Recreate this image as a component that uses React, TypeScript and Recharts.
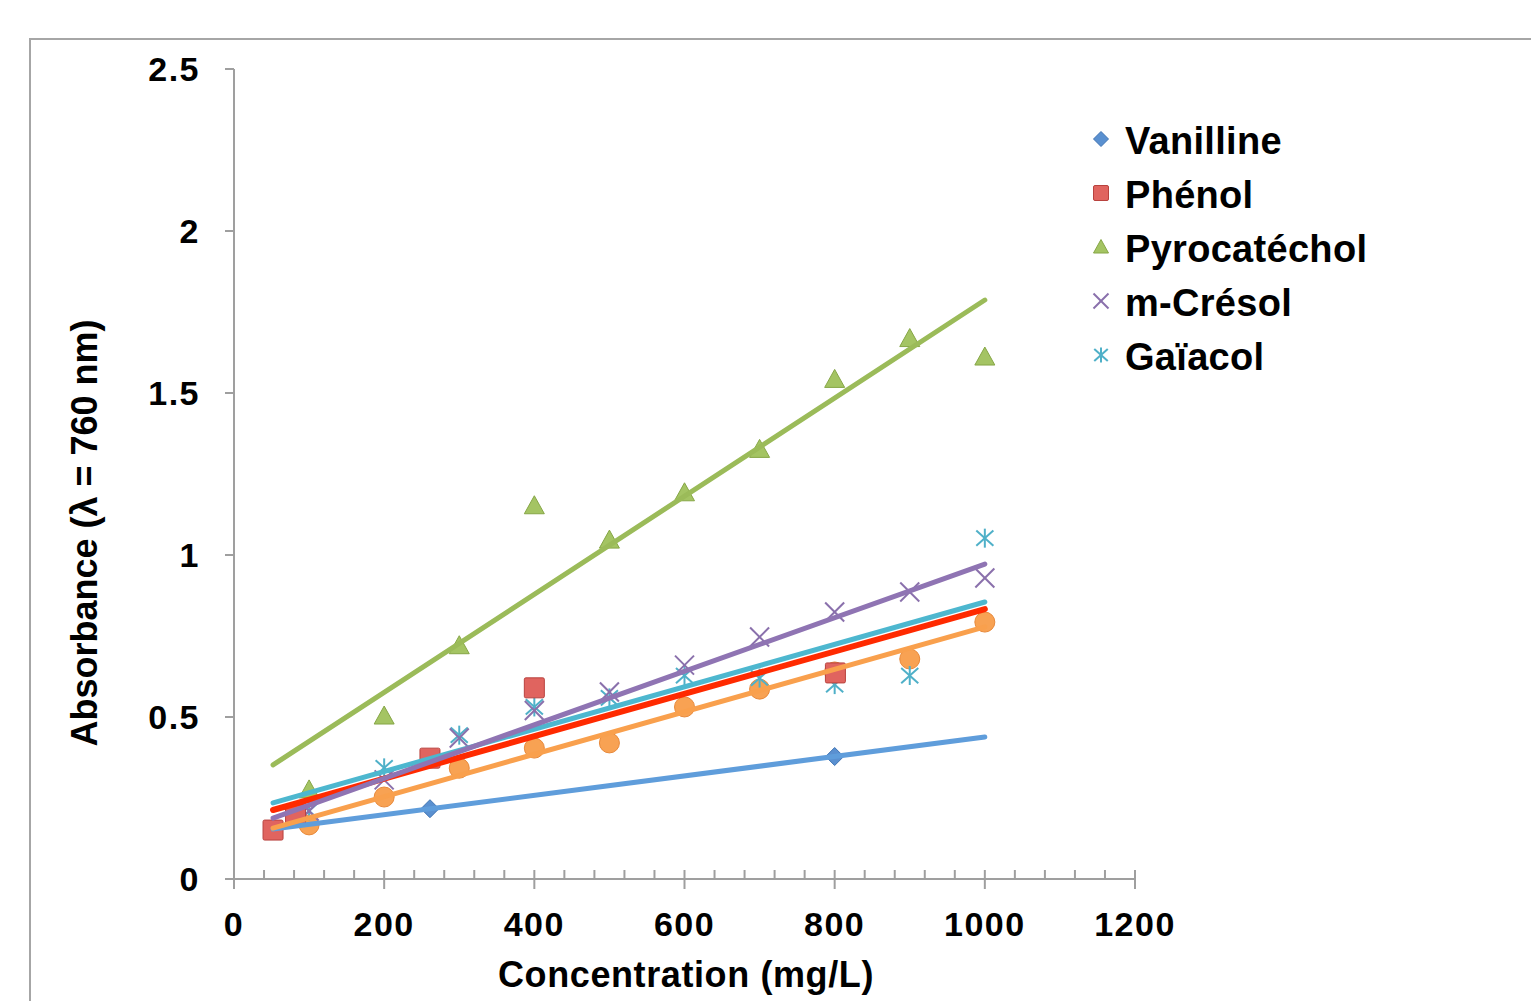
import { ComposedChart, Legend, Scatter, XAxis, YAxis } from "recharts";

const FONT = '"Liberation Sans", Arial, sans-serif';
const AXIS_GREY = "#9f9f9f";

// concentrations (mg/L)
const CONC = [100, 200, 300, 400, 500, 600, 700, 800, 900, 1000];
const VANILLINE_X = [52, 261, 800];
const PHENOL_X = [52, 82, 261, 400, 801];

// absorbance values
const VANILLINE_Y = [0.15, 0.217, 0.378];
const PHENOL_Y = [0.151, 0.198, 0.373, 0.59, 0.636];
const PYRO_Y = [0.275, 0.503, 0.72, 1.152, 1.046, 1.192, 1.326, 1.542, 1.668, 1.611];
const CRESOL_Y = [0.21, 0.306, 0.435, 0.52, 0.577, 0.66, 0.747, 0.824, 0.886, 0.929];
const GAIACOL_Y = [0.21, 0.343, 0.444, 0.531, 0.559, 0.628, 0.62, 0.6, 0.628, 1.052];
const ORANGE_Y = [0.167, 0.253, 0.342, 0.404, 0.42, 0.531, 0.586, 0.639, 0.679, 0.793];

// trend line end points [x0, y0, x1, y1]
const TREND_VANILLINE = [52, 0.154, 1000, 0.438];
const TREND_PHENOL = [52, 0.213, 1000, 0.833];
const TREND_PYRO = [52, 0.352, 1000, 1.787];
const TREND_CRESOL = [52, 0.188, 1000, 0.972];
const TREND_GAIACOL = [52, 0.235, 1000, 0.855];
const TREND_ORANGE = [52, 0.157, 1000, 0.778];

const X_TICKS = [
  0, 40, 80, 120, 160, 200, 240, 280, 320, 360, 400, 440, 480, 520, 560, 600,
  640, 680, 720, 760, 800, 840, 880, 920, 960, 1000, 1040, 1080, 1120, 1160, 1200
];
const X_MAJOR = [0, 200, 400, 600, 800, 1000, 1200];
const Y_TICKS = [0, 0.5, 1, 1.5, 2, 2.5];

const toPoints = (xs: number[], ys: number[]) => xs.map((x, i) => ({ x, y: ys[i] }));
const toTrend = (t: number[]) => [
  { x: t[0], y: t[1] },
  { x: t[2], y: t[3] }
];

type MarkerKind = "diamond" | "square" | "triangle" | "x" | "star" | "circle";

function Marker({ kind, cx, cy, s }: { kind: MarkerKind; cx: number; cy: number; s: number }) {
  const h = s / 2;
  switch (kind) {
    case "diamond":
      return (
        <polygon
          points={`${cx},${cy - h} ${cx + h},${cy} ${cx},${cy + h} ${cx - h},${cy}`}
          fill="#5a90d0"
          stroke="#3f73b3"
          strokeWidth={1}
        />
      );
    case "square":
      return (
        <rect x={cx - h} y={cy - h} width={s} height={s} rx={1.5} fill="#e0645f" stroke="#b8423e" strokeWidth={1} />
      );
    case "triangle":
      return (
        <polygon
          points={`${cx},${cy - h} ${cx + h},${cy + h * 0.8} ${cx - h},${cy + h * 0.8}`}
          fill="#a4c463"
          stroke="#86a646"
          strokeWidth={1}
        />
      );
    case "x":
      return (
        <g stroke="#8a70ac" strokeWidth={2}>
          <line x1={cx - h} y1={cy - h} x2={cx + h} y2={cy + h} />
          <line x1={cx - h} y1={cy + h} x2={cx + h} y2={cy - h} />
        </g>
      );
    case "star":
      return (
        <g stroke="#4fb0c8" strokeWidth={2}>
          <line x1={cx - h * 0.9} y1={cy - h * 0.8} x2={cx + h * 0.9} y2={cy + h * 0.8} />
          <line x1={cx - h * 0.9} y1={cy + h * 0.8} x2={cx + h * 0.9} y2={cy - h * 0.8} />
          <line x1={cx} y1={cy - h} x2={cx} y2={cy + h} />
        </g>
      );
    default:
      return <circle cx={cx} cy={cy} r={h} fill="#f8a253" stroke="#e8893a" strokeWidth={1} />;
  }
}

const shapeOf = (kind: MarkerKind, s: number) => (props: any) =>
  <Marker kind={kind} cx={props.cx} cy={props.cy} s={s} />;

const noShape = () => <g />;

const LEGEND_ITEMS: { name: string; kind: MarkerKind }[] = [
  { name: "Vanilline", kind: "diamond" },
  { name: "Phénol", kind: "square" },
  { name: "Pyrocatéchol", kind: "triangle" },
  { name: "m-Crésol", kind: "x" },
  { name: "Gaïacol", kind: "star" }
];

function LegendBox() {
  return (
    <div style={{ fontFamily: FONT, fontWeight: 700, fontSize: 38, color: "#000" }}>
      {LEGEND_ITEMS.map((item) => (
        <div key={item.name} style={{ display: "flex", alignItems: "center", height: 54, lineHeight: "54px" }}>
          <svg width={22} height={22} style={{ marginRight: 13 }}>
            <Marker kind={item.kind} cx={11} cy={9} s={15} />
          </svg>
          <span style={{ letterSpacing: 0.3 }}>{item.name}</span>
        </div>
      ))}
    </div>
  );
}

function XTick({ x, y, payload }: any) {
  const major = X_MAJOR.includes(payload.value);
  return (
    <g>
      <line x1={x} x2={x} y1={y - 9} y2={major ? y + 10 : y} stroke={AXIS_GREY} strokeWidth={2} />
      {major && (
        <text
          x={x}
          y={y + 57}
          textAnchor="middle"
          fontFamily={FONT}
          fontWeight={700}
          fontSize={34}
          letterSpacing={1.5}
          fill="#000"
        >
          {payload.value}
        </text>
      )}
    </g>
  );
}

export default function App() {
  const trends = [
    { data: toTrend(TREND_PYRO), color: "#9bbb59", w: 5 },
    { data: toTrend(TREND_VANILLINE), color: "#5f9ddb", w: 5 },
    { data: toTrend(TREND_ORANGE), color: "#f9a04d", w: 5 },
    { data: toTrend(TREND_PHENOL), color: "#ff2a00", w: 6 },
    { data: toTrend(TREND_GAIACOL), color: "#4db7cf", w: 5 },
    { data: toTrend(TREND_CRESOL), color: "#8f74b3", w: 5 }
  ];

  return (
    <div style={{ position: "absolute", left: 0, top: 0, width: 1531, height: 1001, overflow: "hidden", background: "#fff" }}>
      <div
        style={{
          position: "absolute",
          left: 29,
          top: 38,
          width: 1600,
          height: 1100,
          border: "2px solid #a6a6a6"
        }}
      />
      <ComposedChart
        width={1531}
        height={1001}
        margin={{ top: 69, right: 396, bottom: 22, left: 34 }}
        style={{ position: "absolute", left: 0, top: 0 }}
      >
        <XAxis
          type="number"
          dataKey="x"
          domain={[0, 1200]}
          ticks={X_TICKS}
          interval={0}
          height={100}
          tickSize={0}
          tickMargin={0}
          tickLine={false}
          axisLine={{ stroke: AXIS_GREY, strokeWidth: 2 }}
          tick={<XTick />}
          label={{
            content: () => (
              <text
                x={686}
                y={987}
                textAnchor="middle"
                fontFamily={FONT}
                fontWeight={700}
                fontSize={36}
                letterSpacing={0.6}
                fill="#000"
              >
                Concentration (mg/L)
              </text>
            )
          }}
        />
        <YAxis
          type="number"
          dataKey="y"
          domain={[0, 2.5]}
          ticks={Y_TICKS}
          interval={0}
          width={200}
          tickSize={9}
          tickMargin={25}
          tickLine={{ stroke: AXIS_GREY, strokeWidth: 2 }}
          axisLine={{ stroke: AXIS_GREY, strokeWidth: 2 }}
          tick={{ fontFamily: FONT, fontWeight: 700, fontSize: 34, fill: "#000", letterSpacing: 1.5 }}
          label={{
            content: () => (
              <text
                transform="translate(97,533) rotate(-90)"
                textAnchor="middle"
                fontFamily={FONT}
                fontWeight={700}
                fontSize={36}
                fill="#000"
              >
                Absorbance (λ = 760 nm)
              </text>
            )
          }}
        />
        <Legend
          layout="vertical"
          align="center"
          verticalAlign="middle"
          wrapperStyle={{ left: 1090, top: 114, width: 320 }}
          content={() => <LegendBox />}
        />

        <Scatter name="orange" data={toPoints(CONC, ORANGE_Y)} shape={shapeOf("circle", 20)} isAnimationActive={false} />
        <Scatter name="Gaïacol" data={toPoints(CONC, GAIACOL_Y)} shape={shapeOf("star", 19)} isAnimationActive={false} />
        <Scatter name="m-Crésol" data={toPoints(CONC, CRESOL_Y)} shape={shapeOf("x", 19)} isAnimationActive={false} />
        <Scatter name="Pyrocatéchol" data={toPoints(CONC, PYRO_Y)} shape={shapeOf("triangle", 20)} isAnimationActive={false} />
        <Scatter name="Vanilline" data={toPoints(VANILLINE_X, VANILLINE_Y)} shape={shapeOf("diamond", 18)} isAnimationActive={false} />
        <Scatter name="Phénol" data={toPoints(PHENOL_X, PHENOL_Y)} shape={shapeOf("square", 20)} isAnimationActive={false} />

        {trends.map((t, i) => (
          <Scatter
            key={i}
            data={t.data}
            shape={noShape}
            line={{ stroke: t.color, strokeWidth: t.w, strokeLinecap: "round" }}
            legendType="none"
            isAnimationActive={false}
          />
        ))}
      </ComposedChart>
    </div>
  );
}
